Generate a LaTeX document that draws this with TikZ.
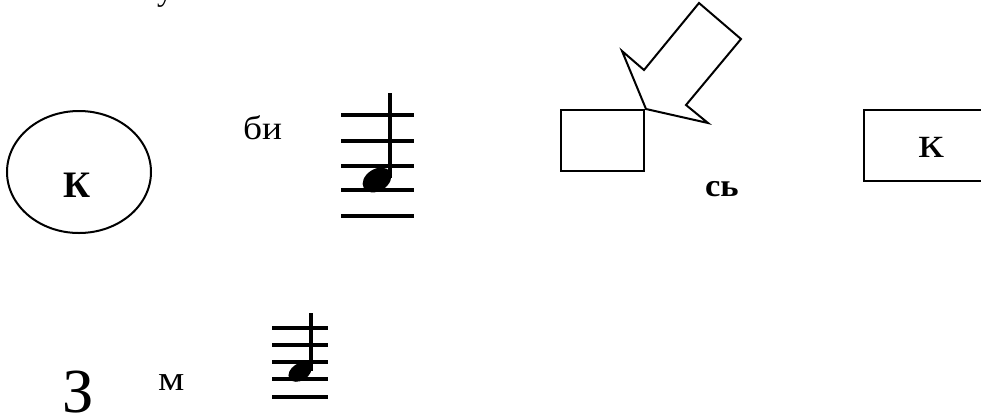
\documentclass[tikz,border=0pt]{standalone}
\usepackage{fontspec}
\setmainfont{Liberation Serif}

\begin{document}
\begin{tikzpicture}[x=0.75pt,y=-0.75pt,line width=1.5pt]
\useasboundingbox (0,0) rectangle (981,419);
\tikzset{
  word/.style={inner sep=0pt,anchor=base west},
  staffline/.style={line width=2.6pt},
  stem/.style={line width=2.3pt}
}
% top fragment
\node[word,font=\fontsize{24}{28}\selectfont] (topword) at (156,0) {у};
% ellipse with letter
\draw (79,172) ellipse (72 and 61);
\node[word,font=\fontsize{28}{32}\selectfont\bfseries] (ka) at (62,197) {К};
% first staff
\node[word,font=\fontsize{25}{30}\selectfont,xscale=1.12] (bi) at (242,139) {би};
\foreach \yy in {115,141,166,190,216}
  \draw[staffline] (341,\yy) -- (414,\yy);
\fill[rotate around={32:(377,180)}] (377,180) ellipse (15.5 and 11);
\draw[stem] (390,93) -- (390,178);
% box with block arrow
\draw (561,110) rectangle (644,171);
\draw[line join=miter] (699,3) -- (741,39) -- (686,105) -- (708,123) -- (646,109)
  -- (622,51) -- (644,70) -- cycle;
\node[word,font=\fontsize{24}{28}\selectfont\bfseries,xscale=1.08] (sj) at (704,196) {сь};
% right box
\draw (990,110) -- (864,110) -- (864,181) -- (990,181);
\node[word,font=\fontsize{33}{38}\selectfont,xscale=1.2] (k) at (917,157) {к};
% bottom row
\node[word,font=\fontsize{47}{52}\selectfont] (ze) at (61,412) {З};
\node[word,font=\fontsize{26}{30}\selectfont,xscale=1.2] (em) at (157,390) {м};
\foreach \yy in {328,345,362,379,397}
  \draw[staffline] (272,\yy) -- (328,\yy);
\fill[rotate around={32:(300,372)}] (300,372) ellipse (12.5 and 8.5);
\draw[stem] (311,313) -- (311,371);
\end{tikzpicture}
\end{document}
